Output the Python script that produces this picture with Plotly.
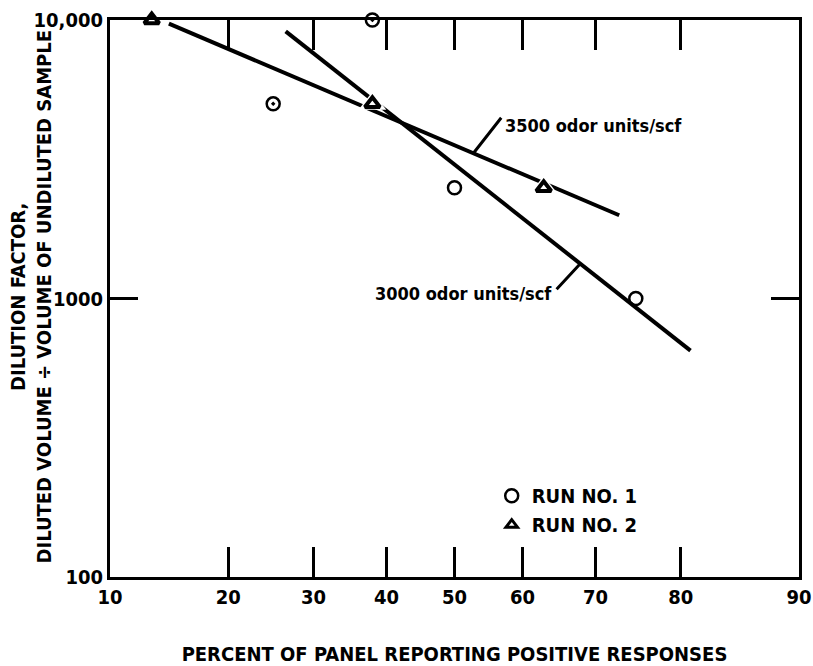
from statistics import NormalDist
import math
import plotly.graph_objects as go

# ---- data -------------------------------------------------------------
# Run 1 (circles): percent of panel vs dilution factor
run1_pct = [50, 25, 38, 75]
run1_dil = [2500, 5000, 10000, 1000]
run1_symbols = ["circle-open", "circle-open-dot", "circle-open-dot", "circle-open"]

# Run 2 (triangles)
run2_pct = [13, 38, 63]
run2_dil = [10000, 5000, 2500]

# fitted threshold lines (end points)
line3500_pct = [14.4, 73.0]
line3500_dil = [9700, 1990]
line3000_pct = [26.5, 81.0]
line3000_dil = [9100, 650]

x_tick_pct = [10, 20, 30, 40, 50, 60, 70, 80, 90]
y_tick_vals = [100, 1000, 10000]
y_tick_text = ["100", "1000", "10,000"]

x_title = "PERCENT OF PANEL REPORTING POSITIVE RESPONSES"
y_title = "DILUTION FACTOR,<br>DILUTED VOLUME \u00f7 VOLUME OF UNDILUTED SAMPLE"

# ---- probability scale --------------------------------------------------
_nd = NormalDist()


def prob(p):
    """Percent -> normal-probability axis coordinate."""
    return _nd.inv_cdf(p / 100.0)


def px(values):
    return [prob(v) for v in values]


def point_on_line(pcts, dils, pct):
    """Point on a straight fitted line (probability x, log10 y)."""
    x0, x1 = prob(pcts[0]), prob(pcts[1])
    l0, l1 = math.log10(dils[0]), math.log10(dils[1])
    x = prob(pct)
    t = (x - x0) / (x1 - x0)
    return x, l0 + t * (l1 - l0)


FONT = "Liberation Sans Narrow, DejaVu Sans Condensed, Arial Narrow, sans-serif"
BLACK = "#000000"
FS = 20


def font(size=FS):
    return dict(family=FONT, size=size, color=BLACK, weight="bold")


fig = go.Figure()

# fitted lines
fig.add_trace(go.Scatter(x=px(line3500_pct), y=line3500_dil, mode="lines",
                         line=dict(color=BLACK, width=4), showlegend=False,
                         hoverinfo="skip"))
fig.add_trace(go.Scatter(x=px(line3000_pct), y=line3000_dil, mode="lines",
                         line=dict(color=BLACK, width=4), showlegend=False,
                         hoverinfo="skip"))

# white halo that breaks the lines around the triangles
fig.add_trace(go.Scatter(x=px(run2_pct), y=run2_dil, mode="markers",
                         marker=dict(symbol="triangle-up", size=24, color="white",
                                     line=dict(width=0)),
                         showlegend=False, hoverinfo="skip", cliponaxis=False))

# Run 1 points
fig.add_trace(go.Scatter(x=px(run1_pct), y=run1_dil, mode="markers",
                         marker=dict(symbol=run1_symbols, size=13, color=BLACK,
                                     line=dict(width=2.5, color=BLACK)),
                         showlegend=False, cliponaxis=False,
                         customdata=run1_pct,
                         hovertemplate="%{customdata}%%, %{y}<extra>Run 1</extra>"))
# Run 2 points
fig.add_trace(go.Scatter(x=px(run2_pct), y=run2_dil, mode="markers",
                         marker=dict(symbol="triangle-up", size=13, color="white",
                                     line=dict(width=4, color=BLACK)),
                         showlegend=False, cliponaxis=False,
                         customdata=run2_pct,
                         hovertemplate="%{customdata}%%, %{y}<extra>Run 2</extra>"))

# legend entries
fig.add_trace(go.Scatter(x=[None], y=[None], mode="markers", name="RUN NO. 1",
                         marker=dict(symbol="circle-open", size=13, color=BLACK,
                                     line=dict(width=2.5, color=BLACK))))
fig.add_trace(go.Scatter(x=[None], y=[None], mode="markers", name="RUN NO. 2",
                         marker=dict(symbol="triangle-up", size=10, color="white",
                                     line=dict(width=3, color=BLACK))))

# line labels with leader lines (annotation y is log10 on a log axis)
ax1, ay1 = point_on_line(line3500_pct, line3500_dil, 52.8)
ax2, ay2 = point_on_line(line3000_pct, line3000_dil, 68.0)
for xa, ya, dx, dy in [(ax1, ay1, 29, -37), (ax2, ay2, -25, 27)]:
    fig.add_annotation(x=xa, y=ya, xref="x", yref="y", text="",
                       showarrow=True, arrowhead=0, arrowwidth=3,
                       arrowcolor=BLACK, ax=dx, ay=dy, standoff=0)
fig.add_annotation(x=ax1, y=ay1, xref="x", yref="y", text="3500 odor units/scf",
                   showarrow=False, xanchor="left", yanchor="middle",
                   xshift=30, yshift=28, font=font(18))
fig.add_annotation(x=ax2, y=ay2, xref="x", yref="y", text="3000 odor units/scf",
                   showarrow=False, xanchor="right", yanchor="middle",
                   xshift=-26, yshift=-30, font=font(18))

# y-axis title, two rotated lines left of the tick labels
fig.add_annotation(x=0, y=0.5, xref="paper", yref="paper", text=y_title,
                   textangle=-90, showarrow=False, xanchor="center",
                   yanchor="middle", xshift=-80, yshift=2, font=font())

axis_common = dict(showline=True, mirror="ticks", linecolor=BLACK, linewidth=3,
                   ticks="inside", tickcolor=BLACK, tickwidth=3, showgrid=False,
                   zeroline=False, automargin=False, tickfont=font())

fig.update_layout(
    width=813, height=666,
    margin=dict(l=110, r=14, t=20, b=89),
    paper_bgcolor="white", plot_bgcolor="white",
    font=font(),
    xaxis=dict(range=[prob(10), prob(90)],
               tickvals=px(x_tick_pct), ticktext=[str(v) for v in x_tick_pct],
               ticklen=30,
               title=dict(text=x_title, standoff=42, font=font()),
               **axis_common),
    yaxis=dict(type="log", range=[2, 4], tickvals=y_tick_vals, ticktext=y_tick_text,
               ticklen=28, **axis_common),
    legend=dict(x=0.554, y=0.181, xanchor="left", yanchor="top",
                bgcolor="rgba(0,0,0,0)", borderwidth=0,
                font=font(), itemwidth=30, tracegroupgap=0),
    showlegend=True,
)

fig.write_html("out.html")
